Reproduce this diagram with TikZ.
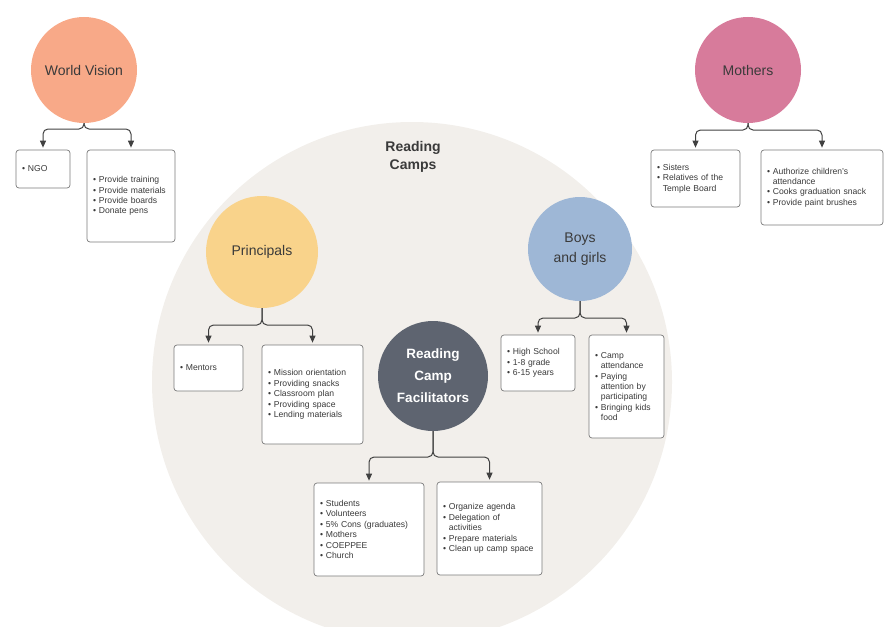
\documentclass[tikz,border=0pt]{standalone}
\usepackage{fontspec}
\setmainfont{Liberation Sans}
\usetikzlibrary{arrows.meta}

\definecolor{campbg}{HTML}{F2EFEB}
\definecolor{wvfill}{HTML}{F8A988}
\definecolor{mofill}{HTML}{D77B9B}
\definecolor{prfill}{HTML}{F9D38B}
\definecolor{bgfill}{HTML}{9EB7D6}
\definecolor{fafill}{HTML}{5E6470}
\definecolor{inkdark}{HTML}{3A3A3A}
\definecolor{boxline}{HTML}{7A7A7A}
\definecolor{linkcol}{HTML}{404040}

\tikzset{
  hub/.style={circle, inner sep=0pt, align=center, text=inkdark,
    font=\fontsize{14}{20}\selectfont},
  itembox/.style={draw=boxline, fill=white, rounded corners=3pt, line width=0.7pt,
    align=left, inner xsep=6pt, inner ysep=3pt, text=inkdark,
    font=\fontsize{8.6}{10.4}\selectfont},
  link/.style={draw=linkcol, line width=1pt, rounded corners=5pt,
    -{Triangle[length=7pt,width=6pt]}, shorten >=2pt},
}
\newcommand{\cont}{\phantom{\textbullet~}}

\begin{document}
\begin{tikzpicture}[x=1pt,y=-1pt]
\useasboundingbox (0,0) rectangle (885,626);

% shaded ring of the reading camps
\begin{scope}
  \clip (0,0) rectangle (885,626);
  \fill[campbg] (412,382) circle (260pt);
\end{scope}
\node[font=\bfseries\fontsize{14}{18}\selectfont, text=inkdark, align=center]
  (camps) at (413,157) {Reading\\Camps};

% actors
\node[hub, fill=wvfill, minimum size=106pt] (wv) at (84,70) {World Vision};
\node[hub, fill=mofill, minimum size=106pt] (mo) at (748,70) {Mothers};
\node[hub, fill=prfill, minimum size=112pt] (pr) at (262,252) {Principals};
\node[hub, fill=bgfill, minimum size=104pt] (bg) at (580,249) {Boys\\and girls};
\node[hub, fill=fafill, minimum size=110pt, text=white,
  font=\bfseries\fontsize{13.5}{22}\selectfont] (fa) at (433,376)
  {Reading\\Camp\\Facilitators};

% role boxes
\node[itembox, text width=42pt, minimum height=38pt] (wvA) at (43,169)
  {\textbullet~NGO};
\node[itembox, text width=76pt, minimum height=92pt] (wvB) at (131,196)
  {\textbullet~Provide training\\\textbullet~Provide materials\\\textbullet~Provide boards\\\textbullet~Donate pens};

\node[itembox, text width=77pt, minimum height=57pt] (moA) at (695.5,178.5)
  {\textbullet~Sisters\\\textbullet~Relatives of the\\\cont Temple Board};
\node[itembox, text width=110pt, minimum height=75pt] (moB) at (822,187.5)
  {\textbullet~Authorize children's\\\cont attendance\\\textbullet~Cooks graduation snack\\\textbullet~Provide paint brushes};

\node[itembox, text width=57pt, minimum height=46pt] (prA) at (208.5,368)
  {\textbullet~Mentors};
\node[itembox, text width=89pt, minimum height=99pt] (prB) at (312.5,394.5)
  {\textbullet~Mission orientation\\\textbullet~Providing snacks\\\textbullet~Classroom plan\\\textbullet~Providing space\\\textbullet~Lending materials};

\node[itembox, text width=62pt, minimum height=56pt] (bgA) at (538,363)
  {\textbullet~High School\\\textbullet~1-8 grade\\\textbullet~6-15 years};
\node[itembox, text width=63pt, minimum height=103pt] (bgB) at (626.5,386.5)
  {\textbullet~Camp\\\cont attendance\\\textbullet~Paying\\\cont attention by\\\cont participating\\\textbullet~Bringing kids\\\cont food};

\node[itembox, text width=98pt, minimum height=93pt] (faA) at (369,529.5)
  {\textbullet~Students\\\textbullet~Volunteers\\\textbullet~5\% Cons (graduates)\\\textbullet~Mothers\\\textbullet~COEPPEE\\\textbullet~Church};
\node[itembox, text width=93pt, minimum height=93pt] (faB) at (489.5,528.5)
  {\textbullet~Organize agenda\\\textbullet~Delegation of\\\cont activities\\\textbullet~Prepare materials\\\textbullet~Clean up camp space};

% branch junctions below each actor
\coordinate (wvj) at (84,129);
\coordinate (moj) at (748,130);
\coordinate (prj) at (262,325);
\coordinate (bgj) at (580,318);
\coordinate (faj) at (433,457);

% connectors
\foreach \hubname/\jn/\boxa/\boxb in {wv/wvj/wvA/wvB, mo/moj/moA/moB,
    pr/prj/prA/prB, bg/bgj/bgA/bgB, fa/faj/faA/faB}{
  \draw[link] (\hubname.south) -- (\jn) -| (\boxa.north);
  \draw[link] (\hubname.south) -- (\jn) -| (\boxb.north);
}
\end{tikzpicture}
\end{document}
